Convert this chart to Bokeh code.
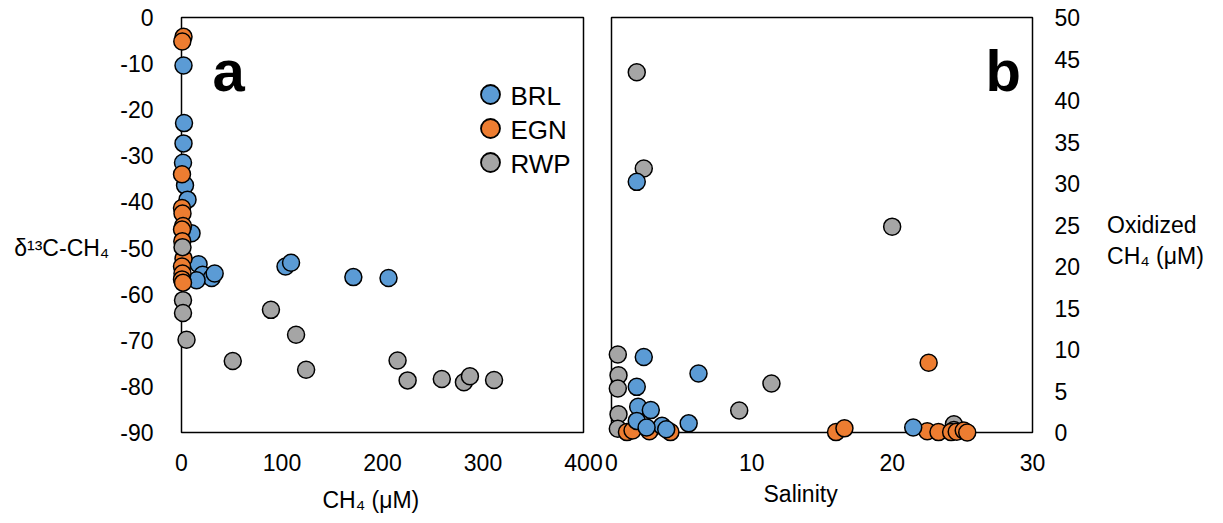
from bokeh.plotting import figure
from bokeh.models import FixedTicker, Range1d, Label, Title
from bokeh.layouts import row
from bokeh.embed import file_html
from bokeh.resources import INLINE

# ---------------- data ----------------
sites = ["BRL", "EGN", "RWP"]
colors = ["#5B9BD5", "#ED7D31", "#A5A5A5"]

# Panel a: CH4 (uM) vs d13C-CH4
a_brl_ch4 = [2, 2.5, 2, 1.5, 3.5, 6, 10, 17, 21, 30, 33, 15, 103.5, 109, 171, 206]
a_brl_d13c = [-10.4, -22.9, -27.3, -31.5, -36.4, -39.5, -46.8, -53.5, -55.8, -56.5, -55.5, -57.0, -54.0, -53.2, -56.3, -56.5]
a_egn_ch4 = [2, 0.8, 0.5, 0.5, 1.0, 1.5, 0.5, 0.8, 2, 0.5, 1.0, 0.5, 1.5]
a_egn_d13c = [-4.2, -5.2, -34.0, -41.3, -42.5, -45.2, -46.0, -48.5, -52.3, -54.0, -55.5, -56.8, -57.5]
a_rwp_ch4 = [1, 1.5, 1.5, 5, 51, 89, 114, 124, 215, 225, 259, 281, 287, 311]
a_rwp_d13c = [-49.8, -61.3, -64.1, -69.9, -74.5, -63.4, -68.8, -76.4, -74.4, -78.7, -78.4, -79.1, -77.8, -78.6]

# Panel b: salinity vs oxidized CH4 (uM)
b_brl_sal = [1.8, 2.3, 6.2, 1.8, 1.9, 2.8, 1.8, 5.5, 3.6, 2.5, 3.9, 21.5]
b_brl_ox = [30.2, 9.1, 7.1, 5.5, 3.1, 2.7, 1.4, 1.1, 0.8, 0.6, 0.4, 0.6]
b_egn_sal = [1.1, 1.5, 2.7, 4.2, 16.0, 16.6, 22.6, 22.5, 23.3, 24.2, 24.6, 25.1, 25.35]
b_egn_ox = [0.05, 0.25, 0.15, 0.05, 0.05, 0.5, 8.4, 0.15, 0.05, 0.05, 0.1, 0.25, 0.0]
b_rwp_sal = [1.8, 2.3, 20.0, 0.45, 0.5, 0.45, 0.5, 0.45, 9.1, 11.4, 24.4, 24.4]
b_rwp_ox = [43.4, 31.8, 24.8, 9.4, 6.9, 5.3, 2.2, 0.45, 2.65, 5.9, 1.0, 0.3]

a_xticks = [0, 100, 200, 300, 400]
a_yticks = [-90, -80, -70, -60, -50, -40, -30, -20, -10, 0]
b_xticks = [0, 10, 20, 30]
b_yticks = [0, 5, 10, 15, 20, 25, 30, 35, 40, 45, 50]

a_xlabel = "CH\u2084 (\u03bcM)"
a_ylabel = "\u03b4\u00b9\u00b3C-CH\u2084"
b_xlabel = "Salinity"
b_ylabel = ["Oxidized", "CH\u2084 (\u03bcM)"]

# ---------------- layout constants (screen px) ----------------
FONT = "Liberation Sans"
TICK_FS = "23px"
LAB_FS = "23px"
MS = 17

BOX_TOP, BOX_BOTTOM = 17, 432
A_LEFT, A_RIGHT = 181, 583
B_LEFT, B_RIGHT = 611, 1032
PAD_T, PAD_B = 10, 10
A_PAD_L, A_PAD_R = 10, 10
B_PAD_L, B_PAD_R = 6, 10
FIG_TOP = BOX_TOP - PAD_T
FRAME_BOTTOM = BOX_BOTTOM + PAD_B
FRAME_H = FRAME_BOTTOM - FIG_TOP
SPLIT = 603


def padded(lo, hi, px_lo, px_hi, pad_lo, pad_hi):
    k = (hi - lo) / (px_hi - px_lo)
    return Range1d(lo - pad_lo * k, hi + pad_hi * k)


def style_axis(ax, ticks, standoff):
    ax.ticker = FixedTicker(ticks=ticks)
    ax.major_label_overrides = {t: str(t) for t in ticks}
    ax.axis_line_color = None
    ax.major_tick_line_color = None
    ax.minor_tick_line_color = None
    ax.major_label_standoff = standoff
    ax.major_label_text_font = FONT
    ax.major_label_text_font_size = TICK_FS
    ax.major_label_text_color = "black"
    ax.axis_label_text_font = FONT
    ax.axis_label_text_font_size = LAB_FS
    ax.axis_label_text_font_style = "normal"
    ax.axis_label_text_color = "black"


def add_text(fig, frame_left, x, y, text, size, style="normal", baseline="alphabetic"):
    fig.add_layout(Label(x=x - frame_left, y=FRAME_BOTTOM - y,
                         x_units="screen", y_units="screen", text=text,
                         text_font=FONT, text_font_size=size,
                         text_font_style=style, text_align="left",
                         text_baseline=baseline, text_color="black"))


def bottom_title(fig, frame_left, x, text, pad):
    fig.add_layout(Title(text=text, align="left", offset=x - frame_left - pad,
                         text_font=FONT, text_font_size=LAB_FS,
                         text_font_style="normal", text_color="black",
                         padding=pad), "below")


# ---------------- panel a ----------------
a_frame_l = A_LEFT - A_PAD_L
a_frame_r = A_RIGHT + A_PAD_R
pa = figure(frame_width=a_frame_r - a_frame_l, frame_height=FRAME_H,
            x_range=padded(0, 400, A_LEFT, A_RIGHT, A_PAD_L, A_PAD_R),
            y_range=padded(-90, 0, 0, BOX_BOTTOM - BOX_TOP, PAD_B, PAD_T),
            min_border_left=a_frame_l, min_border_right=SPLIT - a_frame_r,
            min_border_top=FIG_TOP, min_border_bottom=523 - FRAME_BOTTOM,
            output_backend="svg", toolbar_location=None)
pa.grid.visible = False
pa.outline_line_color = None
style_axis(pa.xaxis[0], a_xticks, 5)
style_axis(pa.yaxis[0], a_yticks, 12)
pa.yaxis.axis_label = " \n \n" + a_ylabel
pa.yaxis.axis_label_orientation = "horizontal"
pa.yaxis.axis_label_text_line_height = 0.9
pa.yaxis.axis_label_standoff = 8
bottom_title(pa, a_frame_l, 322, a_xlabel, 6)

pa.quad(left=[a_xticks[0]], right=[a_xticks[-1]], bottom=[a_yticks[0]], top=[a_yticks[-1]],
        fill_color=None, line_color="black", line_width=1.5)
for xs, ys, c in [(a_brl_ch4, a_brl_d13c, colors[0]),
                  (a_egn_ch4, a_egn_d13c, colors[1]),
                  (a_rwp_ch4, a_rwp_d13c, colors[2])]:
    pa.scatter(xs, ys, size=MS, fill_color=c, line_color="black", line_width=1.5)


def a_px_to_data(px, py):
    return (px - A_LEFT) * 400 / (A_RIGHT - A_LEFT), -(py - BOX_TOP) * 90 / (BOX_BOTTOM - BOX_TOP)


leg_x, leg_y0, leg_dy = 490, 94, 34
for i, (s, c) in enumerate(zip(sites, colors)):
    lx, ly = a_px_to_data(leg_x, leg_y0 + i * leg_dy)
    pa.scatter([lx], [ly], size=19, fill_color=c, line_color="black", line_width=1.8)
    add_text(pa, a_frame_l, 510, leg_y0 + i * leg_dy + 1, s, "26px", baseline="middle")

add_text(pa, a_frame_l, 212, 70, "a", "58px", style="bold")

# ---------------- panel b ----------------
b_frame_l = B_LEFT - B_PAD_L
b_frame_r = B_RIGHT + B_PAD_R
pb = figure(frame_width=b_frame_r - b_frame_l, frame_height=FRAME_H,
            x_range=padded(0, 30, B_LEFT, B_RIGHT, B_PAD_L, B_PAD_R),
            y_range=padded(0, 50, 0, BOX_BOTTOM - BOX_TOP, PAD_B, PAD_T),
            y_axis_location="right",
            min_border_left=b_frame_l - SPLIT, min_border_right=1223 - b_frame_r,
            min_border_top=FIG_TOP, min_border_bottom=523 - FRAME_BOTTOM,
            output_backend="svg", toolbar_location=None)
pb.grid.visible = False
pb.outline_line_color = None
style_axis(pb.xaxis[0], b_xticks, 5)
style_axis(pb.yaxis[0], b_yticks, 6)
pb.yaxis.axis_label = " \n" + "\n".join(b_ylabel)
pb.yaxis.axis_label_orientation = "horizontal"
pb.yaxis.axis_label_text_align = "left"
pb.yaxis.axis_label_standoff = 24
bottom_title(pb, b_frame_l, 763, b_xlabel, 0)

pb.quad(left=[b_xticks[0]], right=[b_xticks[-1]], bottom=[b_yticks[0]], top=[b_yticks[-1]],
        fill_color=None, line_color="black", line_width=1.5)
for xs, ys, c in [(b_rwp_sal, b_rwp_ox, colors[2]),
                  (b_egn_sal, b_egn_ox, colors[1]),
                  (b_brl_sal, b_brl_ox, colors[0])]:
    pb.scatter(xs, ys, size=MS, fill_color=c, line_color="black", line_width=1.5)

add_text(pb, b_frame_l, 985, 70, "b", "58px", style="bold")

layout = row(pa, pb, spacing=0)
open("out.html", "w").write(file_html(layout, INLINE))
